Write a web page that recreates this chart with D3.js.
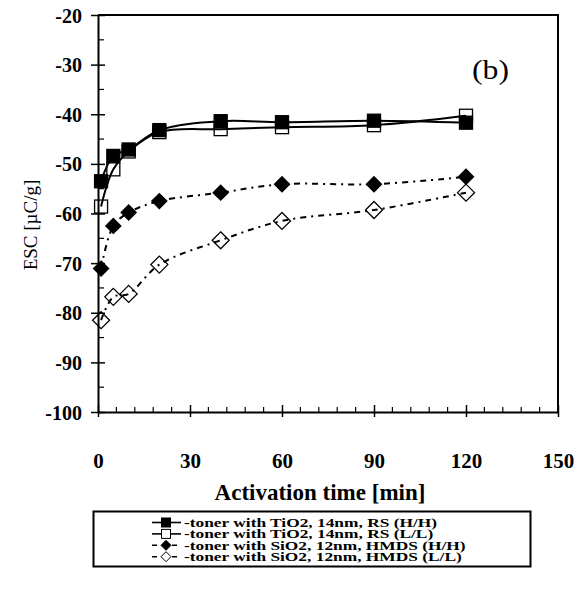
<!DOCTYPE html>
<html><head><meta charset="utf-8">
<script src="https://cdn.jsdelivr.net/npm/d3@7"></script>
<style>body{margin:0;background:#fff}svg{display:block}</style>
</head><body>
<svg id="c" width="585" height="592"></svg>
<script>
const times = [1, 5, 10, 20, 40, 60, 90, 120];
const tioHH = [-53.5, -48.4, -47.1, -43.2, -41.4, -41.6, -41.3, -41.7];
const tioLL = [-58.6, -51.1, -47.5, -43.6, -43.0, -42.6, -42.2, -40.3];
const sioHH = [-71.1, -62.5, -59.8, -57.5, -55.8, -54.1, -54.1, -52.6];
const sioLL = [-81.5, -76.8, -76.2, -70.3, -65.4, -61.5, -59.3, -55.8];
const xTicks = [0, 30, 60, 90, 120, 150];
const yTicks = [-100, -90, -80, -70, -60, -50, -40, -30, -20];
const legendLabels = [
  "-toner with TiO2, 14nm, RS (H/H)",
  "-toner with TiO2, 14nm, RS (L/L)",
  "-toner with SiO2, 12nm, HMDS (H/H)",
  "-toner with SiO2, 12nm, HMDS (L/L)"
];

const svg = d3.select("#c");
const L = 98, R = 558, T = 15, B = 412;
const x = d3.scaleLinear().domain([0, 150]).range([L, R]);
const y = d3.scaleLinear().domain([-100, -20]).range([B, T]);
const font = "'Liberation Serif', 'Times New Roman', serif";
const fmt = d => String(d);

// frame
svg.append("path").attr("d", `M${L},${T}H${R}V${B}`).attr("fill", "none").attr("stroke", "#000").attr("stroke-width", 2);

// axes
const xAx = svg.append("g").attr("transform", `translate(0,${B})`)
  .call(d3.axisBottom(x).tickValues(xTicks).tickSize(0).tickPadding(0).tickFormat(fmt));
xAx.select(".domain").attr("stroke-width", 2);
xAx.selectAll("text").attr("y", 41).attr("font-family", font).attr("font-weight", "bold").attr("font-size", 21);
xAx.selectAll(".tick").append("line").attr("y1", -7).attr("y2", 5).attr("stroke", "#000").attr("stroke-width", 1.5);
const xMinor = d3.range(0, 151, 6).filter(v => v % 30 !== 0);
svg.append("g").selectAll("line").data(xMinor).join("line")
  .attr("x1", d => x(d)).attr("x2", d => x(d)).attr("y1", B).attr("y2", B - 5)
  .attr("stroke", "#000").attr("stroke-width", 1.2);

const yAx = svg.append("g").attr("transform", `translate(${L},0)`)
  .call(d3.axisLeft(y).tickValues(yTicks).tickSize(0).tickPadding(0).tickFormat(fmt));
yAx.select(".domain").attr("stroke-width", 2);
yAx.selectAll("text").attr("x", -16).attr("dy", "0.35em").attr("font-family", font).attr("font-weight", "bold").attr("font-size", 20);
yAx.selectAll(".tick").append("line").attr("x1", -7).attr("x2", 7).attr("stroke", "#000").attr("stroke-width", 1.5);
const yMinor = d3.range(-95, -20, 10);
svg.append("g").selectAll("line").data(yMinor).join("line")
  .attr("x1", L).attr("x2", L + 6).attr("y1", d => y(d)).attr("y2", d => y(d))
  .attr("stroke", "#000").attr("stroke-width", 1.2);

// labels
svg.append("text").attr("x", 320).attr("y", 500).attr("text-anchor", "middle")
  .attr("font-family", font).attr("font-weight", "bold").attr("font-size", 23).text("Activation time [min]");
svg.append("text").attr("transform", "translate(37,225) rotate(-90)").attr("text-anchor", "middle")
  .attr("font-family", font).attr("font-size", 19).attr("fill", "#000").text("ESC [µC/g]");
svg.append("text").attr("x", 472).attr("y", 79).attr("font-family", font).attr("font-size", 27)
  .attr("textLength", 37).attr("lengthAdjust", "spacingAndGlyphs").text("(b)");

// series
const series = [
  {vals: tioLL, dash: null, shape: "square", fill: "none", size: 13},
  {vals: tioHH, dash: null, shape: "square", fill: "#000", size: 13},
  {vals: sioLL, dash: "6,5,2,5", shape: "diamond", fill: "none", size: 8.5},
  {vals: sioHH, dash: "6,5,2,5", shape: "diamond", fill: "#000", size: 7.5}
];
const line = d3.line().x(d => x(d[0])).y(d => y(d[1])).curve(d3.curveCatmullRom.alpha(0.5));
function marker(g, shape, fill, cx, cy, size) {
  if (shape === "square") {
    g.append("rect").attr("x", cx - size / 2).attr("y", cy - size / 2).attr("width", size).attr("height", size)
      .attr("fill", fill).attr("stroke", "#000").attr("stroke-width", 1.3);
  } else {
    const h = size;
    g.append("path").attr("d", `M${cx},${cy - h}L${cx + h},${cy}L${cx},${cy + h}L${cx - h},${cy}Z`)
      .attr("fill", fill).attr("stroke", "#000").attr("stroke-width", 1.3);
  }
}
series.forEach(s => {
  const pts = times.map((t, i) => [t, s.vals[i]]);
  svg.append("path").attr("d", line(pts)).attr("fill", "none").attr("stroke", "#000")
    .attr("stroke-width", 2).attr("stroke-dasharray", s.dash);
  const g = svg.append("g");
  pts.forEach(p => marker(g, s.shape, s.fill, x(p[0]), y(p[1]), s.size));
});

// legend
svg.append("rect").attr("x", 93.5).attr("y", 511.5).attr("width", 437).attr("height", 55)
  .attr("fill", "none").attr("stroke", "#000").attr("stroke-width", 2);
const legOrder = [
  {shape: "square", fill: "#000", dash: null},
  {shape: "square", fill: "none", dash: null},
  {shape: "diamond", fill: "#000", dash: "5,5"},
  {shape: "diamond", fill: "none", dash: "5,5"}
];
let stretch = null;
legOrder.forEach((s, i) => {
  const cy = 522.5 + i * 11.4;
  const g = svg.append("g");
  g.append("line").attr("x1", 152).attr("x2", 181).attr("y1", cy).attr("y2", cy)
    .attr("stroke", "#000").attr("stroke-width", 1.6).attr("stroke-dasharray", s.dash);
  if (s.shape === "square") {
    g.append("rect").attr("x", 161.5).attr("y", cy - 4.5).attr("width", 9).attr("height", 9)
      .attr("fill", s.fill === "none" ? "#fff" : "#000").attr("stroke", "#000").attr("stroke-width", 1);
  } else {
    g.append("path").attr("d", `M166,${cy - 5}L171,${cy}L166,${cy + 5}L161,${cy}Z`)
      .attr("fill", s.fill === "none" ? "#fff" : "#000").attr("stroke", "#000").attr("stroke-width", 1);
  }
  const t = g.append("text").attr("x", 184).attr("y", cy + 4.3).attr("font-family", font).attr("font-weight", "bold")
    .attr("font-size", 13.5).text(legendLabels[i]);
  const w = t.node().getComputedTextLength();
  if (stretch === null) stretch = 253 / w;
  t.attr("textLength", w * stretch).attr("lengthAdjust", "spacingAndGlyphs");
});
</script>
</body></html>
